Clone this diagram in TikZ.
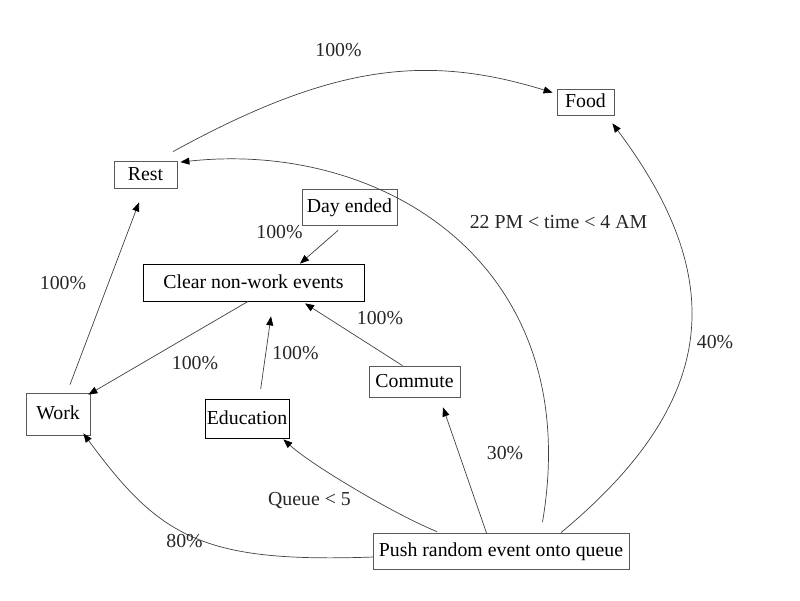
\documentclass[tikz,border=0pt]{standalone}
\usepackage{fontspec}
\setmainfont{Liberation Serif}
\usetikzlibrary{arrows.meta,calc}
\begin{document}
\begin{tikzpicture}[x=1pt,y=-1pt,
  box/.style={draw=black!65, line width=0.8pt, inner sep=0pt, text height=13pt, text depth=2pt, font=\fontsize{19.8}{24}\selectfont},
  lbl/.style={inner sep=0pt, text height=13pt, text depth=2pt, font=\fontsize{19.8}{24}\selectfont, text=black!85},
  conn/.style={draw=black!75, line width=0.7pt},
  arr/.style={conn, -{Triangle[length=9pt,width=7pt,color=black]}}]
\useasboundingbox (0,0) rectangle (800,600);
% nodes
\node[box, minimum width=57pt, minimum height=26pt] (food) at (585.5,102) {Food};
\node[box, minimum width=63pt, minimum height=27pt] (rest) at (145.5,174.5) {Rest};
\node[box, minimum width=95pt, minimum height=36pt] (day) at (349.5,207) {Day ended};
\node[box, draw=black, minimum width=221pt, minimum height=37pt] (clear) at (253.5,282.5) {Clear non-work events};
\node[box, minimum width=64pt, minimum height=42pt] (work) at (58,414) {Work};
\node[box, draw=black, minimum width=84pt, minimum height=39pt] (edu) at (247,418.5) {Education};
\node[box, minimum width=91pt, minimum height=31pt] (commute) at (414.5,381.5) {Commute};
\node[box, minimum width=256pt, minimum height=36pt] (push) at (501,551) {Push random event onto queue};
% connectors
\draw[arr] ($(rest.north)+(27.5,-9)$) .. controls +(162,-89) and +(-124,-38) .. ($(food.north west)+(-4,4)$);
\draw[arr] ($(push.north)+(41.5,-10.5)$) .. controls +(44,-260) and +(200,-22) .. ($(rest.north east)+(3,1.5)$);
\draw[arr] ($(push.north)+(60,0)$) .. controls +(154,-128) and +(120,160) .. ($(food.south east)+(-2,8)$);
\draw[arr] ($(day.south)+(-11.5,5)$) -- ($(clear.north)+(46.5,0)$);
\draw[arr] ($(work.north)+(12,-8)$) -- ($(rest.south)+(-6.5,14)$);
\draw[arr] ($(clear.south)+(-5.5,0)$) -- ($(work.north east)+(-2,2)$);
\draw[arr] ($(edu.north)+(13.7,-9.7)$) -- ($(clear.south)+(17.5,15)$);
\draw[arr] ($(commute.north)+(-12,0)$) -- ($(clear.south)+(51.5,2)$);
\draw[arr] ($(push.north)+(-14.3,1)$) -- ($(commute.south)+(28.5,10)$);
\draw[arr] ($(push.north)+(-64,-1)$) .. controls +(-40,-16) and +(30,27) .. ($(edu.south east)+(-6,1)$);
\draw[arr] ($(push.west)+(1,6)$) .. controls +(-170,6) and +(77,105) .. ($(work.south east)+(-7,-2)$);
% labels
\node[lbl] (l1) at (338.5,51) {100\%};
\node[lbl] (l2) at (558.5,223) {22 PM < time < 4 AM};
\node[lbl] (l3) at (715,343) {40\%};
\node[lbl] (l4) at (279.5,232.5) {100\%};
\node[lbl] (l5) at (63,284) {100\%};
\node[lbl] (l6) at (195,364) {100\%};
\node[lbl] (l7) at (295.5,354) {100\%};
\node[lbl] (l8) at (380,318.5) {100\%};
\node[lbl] (l9) at (505,453.5) {30\%};
\node[lbl] (l10) at (309.5,500) {Queue < 5};
\node[lbl] (l11) at (184.5,541.5) {80\%};
\end{tikzpicture}
\end{document}
